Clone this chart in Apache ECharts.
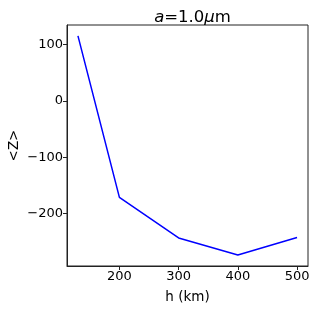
<!DOCTYPE html>
<html>
<head>
<meta charset="utf-8">
<script src="https://cdn.jsdelivr.net/npm/echarts@6/dist/echarts.min.js"></script>
<style>html,body{margin:0;padding:0;background:#fff}#c{width:317px;height:309px}</style>
</head>
<body>
<div id="c"></div>
<script>
var hValues = [130, 200, 300, 400, 500];
var zValues = [115, -171, -243, -273, -242];
var xTicks = [200, 300, 400, 500];
var yTicks = [-200, -100, 0, 100];

var chart = echarts.init(document.getElementById('c'), null, {renderer: 'canvas'});
var font = 'DejaVu Sans';
var axisCommon = {
  axisLine: {show: true, onZero: false, lineStyle: {color: '#222', width: 1}},
  axisTick: {show: true, inside: false, length: 4, lineStyle: {color: '#222', width: 1}},
  splitLine: {show: false},
  axisLabel: {color: '#000', fontFamily: font, fontSize: 13, margin: 4},
  nameTextStyle: {color: '#000', fontFamily: font, fontSize: 13.5}
};
chart.setOption({
  animation: false,
  backgroundColor: '#fff',
  title: {
    text: '{i|a}=1.0{i|μ}m',
    left: 187.5, top: 4, textAlign: 'center',
    textStyle: {
      fontFamily: font, fontSize: 16.5, fontWeight: 'normal', color: '#000',
      rich: {i: {fontFamily: font, fontSize: 16.5, fontStyle: 'italic', color: '#000'}}
    }
  },
  grid: {left: 67, top: 25, right: 9, bottom: 43, containLabel: false, outerBoundsMode: 'none', show: true, borderColor: '#222', borderWidth: 1},
  xAxis: Object.assign({}, axisCommon, {
    type: 'value', min: 111.5, max: 518.5,
    name: 'h (km)', nameLocation: 'middle', nameGap: 24, nameMoveOverlap: false,
    axisTick: Object.assign({}, axisCommon.axisTick, {customValues: xTicks}),
    axisLabel: Object.assign({}, axisCommon.axisLabel, {customValues: xTicks})
  }),
  yAxis: Object.assign({}, axisCommon, {
    type: 'value', min: -292.6, max: 134.2,
    name: '<Z>', nameLocation: 'middle', nameGap: 46, nameRotate: 90, nameMoveOverlap: false,
    axisTick: Object.assign({}, axisCommon.axisTick, {customValues: yTicks}),
    axisLabel: Object.assign({}, axisCommon.axisLabel, {customValues: yTicks,
      formatter: function (v) { return v < 0 ? '\u2212' + Math.abs(v) : String(v); }})
  }),
  series: [{
    type: 'line',
    data: hValues.map(function (h, i) { return [h, zValues[i]]; }),
    showSymbol: false, symbol: 'none',
    lineStyle: {color: '#0000ff', width: 1.5},
    itemStyle: {color: '#0000ff'}
  }]
});
</script>
</body>
</html>
